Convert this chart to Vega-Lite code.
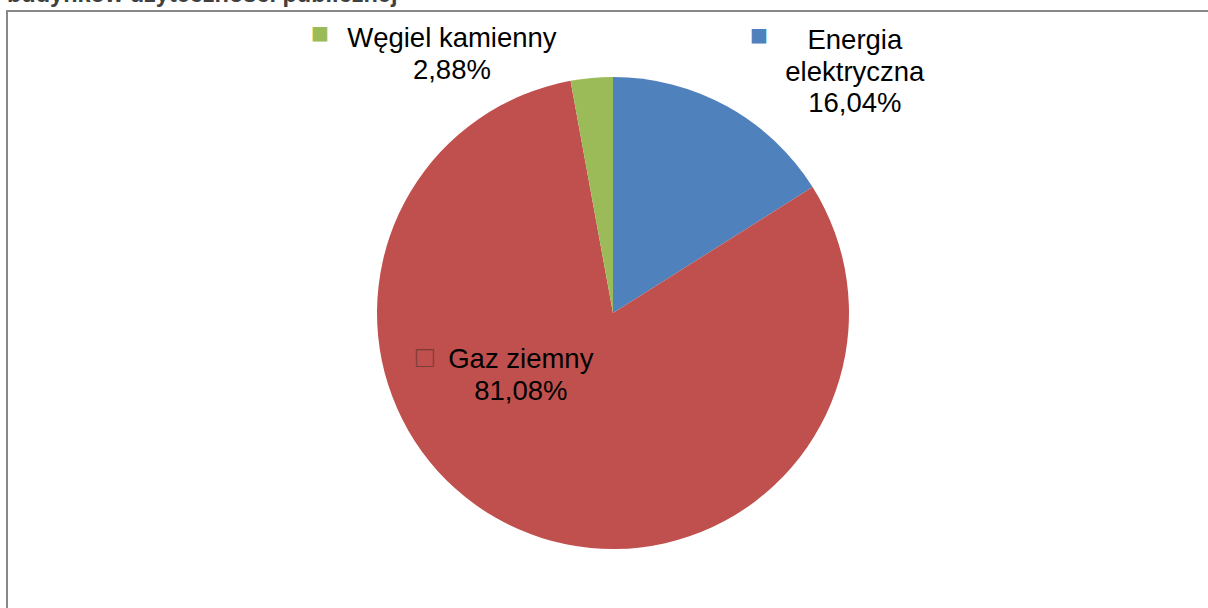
{
  "$schema": "https://vega.github.io/schema/vega-lite/v6.json",
  "autosize": {"type": "none"},
  "padding": {"left": 7, "top": 11, "right": -11, "bottom": -7},
  "width": 1212,
  "height": 604,
  "background": "white",
  "view": {"stroke": "#888888", "strokeWidth": 2},
  "title": {
    "text": "budynków użyteczności publicznej",
    "anchor": "start",
    "frame": "group",
    "font": "Liberation Sans",
    "fontSize": 23.5,
    "fontWeight": "bold",
    "color": "#404040",
    "baseline": "alphabetic",
    "offset": 6,
    "dy": 46
  },
  "config": {"style": {"view": {"stroke": "#888888", "strokeWidth": 2}}},
  "data": {
    "values": [
      {"category": "Energia elektryczna", "share": 16.04, "label": "Energia\nelektryczna\n16,04%"},
      {"category": "Gaz ziemny", "share": 81.08, "label": "Gaz ziemny\n81,08%"},
      {"category": "Węgiel kamienny", "share": 2.88, "label": "Węgiel kamienny\n2,88%"}
    ]
  },
  "encoding": {
    "theta": {"field": "share", "type": "quantitative", "stack": true},
    "order": {"field": "category", "type": "ordinal"},
    "detail": {"field": "category", "type": "nominal"}
  },
  "layer": [
    {
      "mark": {"type": "arc", "radius": 236},
      "encoding": {
        "color": {
          "field": "category",
          "type": "nominal",
          "legend": null,
          "scale": {
            "domain": ["Energia elektryczna", "Gaz ziemny", "Węgiel kamienny"],
            "range": ["#4F81BD", "#C0504D", "#9BBB59"]
          }
        }
      }
    },
    {
      "mark": {"type": "text", "radius": 300, "dx": 97, "dy": -1, "align": "center", "baseline": "alphabetic", "font": "Liberation Sans", "fontSize": 27.5, "lineHeight": 31.5, "lineBreak": "\n", "color": "#000000"},
      "encoding": {"text": {"condition": {"test": "datum.category === 'Energia elektryczna'", "field": "label"}, "value": ""}}
    },
    {
      "mark": {"type": "text", "radius": 300, "dx": -134, "dy": 33, "align": "center", "baseline": "alphabetic", "font": "Liberation Sans", "fontSize": 27.5, "lineHeight": 31.5, "lineBreak": "\n", "color": "#000000"},
      "encoding": {"text": {"condition": {"test": "datum.category === 'Węgiel kamienny'", "field": "label"}, "value": ""}}
    },
    {
      "mark": {"type": "text", "radius": 100, "dx": -52, "dy": -37, "align": "center", "baseline": "alphabetic", "font": "Liberation Sans", "fontSize": 27.5, "lineHeight": 32, "lineBreak": "\n", "color": "#000000"},
      "encoding": {"text": {"condition": {"test": "datum.category === 'Gaz ziemny'", "field": "label"}, "value": ""}}
    },
    {
      "mark": {"type": "text", "radius": 300, "dx": 1, "dy": -5, "align": "center", "baseline": "alphabetic", "font": "Liberation Sans", "fontSize": 30, "color": "#4F81BD"},
      "encoding": {"text": {"condition": {"test": "datum.category === 'Energia elektryczna'", "value": "■"}, "value": ""}}
    },
    {
      "mark": {"type": "text", "radius": 300, "dx": -266, "dy": 29, "align": "center", "baseline": "alphabetic", "font": "Liberation Sans", "fontSize": 30, "color": "#9BBB59"},
      "encoding": {"text": {"condition": {"test": "datum.category === 'Węgiel kamienny'", "value": "■"}, "value": ""}}
    },
    {
      "mark": {"type": "text", "radius": 100, "dx": -148, "dy": -38, "align": "center", "baseline": "alphabetic", "font": "Liberation Sans", "fontSize": 30, "color": "#7a3b39"},
      "encoding": {"text": {"condition": {"test": "datum.category === 'Gaz ziemny'", "value": "□"}, "value": ""}}
    }
  ]
}
